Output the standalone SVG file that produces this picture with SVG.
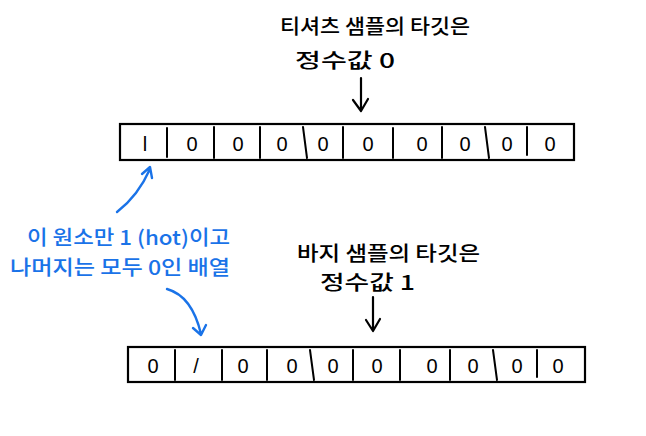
<svg xmlns="http://www.w3.org/2000/svg" width="646" height="436" viewBox="0 0 646 436">
<style>
.t{font-family:"Noto Sans CJK KR","Noto Sans",sans-serif;font-size:20px;font-weight:500;fill:#000}
.b{font-family:"Noto Sans CJK KR","Noto Sans",sans-serif;font-size:20px;font-weight:500;fill:#1a73e8}
.d{font-family:"Liberation Sans","Noto Sans",sans-serif;font-size:20px;fill:#000;text-anchor:middle}
.box{fill:#fff;stroke:#000;stroke-width:2.2}
.div{stroke:#000;stroke-width:2;fill:none;stroke-linecap:round}
.ar{stroke:#000;stroke-width:2.2;fill:none;stroke-linecap:round;stroke-linejoin:round}
.ab{stroke:#1a73e8;stroke-width:2.4;fill:none;stroke-linecap:round;stroke-linejoin:round}
</style>
<rect width="646" height="436" fill="#fff"/>
<g id="label-top">
<text class="t" x="280" y="34" textLength="190" lengthAdjust="spacingAndGlyphs">티셔츠 샘플의 타깃은</text>
<text class="t" x="295" y="68" textLength="100" lengthAdjust="spacingAndGlyphs">정수값 0</text>
</g>
<g id="array-top">
<rect class="box" x="120" y="124" width="454" height="36"/>
<g class="div">
<path d="M167 128V157M214 127V158M260 127V158M303 127L307 158M343 127V158M393 128V158M442 127V158M485 127L489 158M527 127V155"/>
</g>
<g class="d">
<text x="145" y="151">l</text><text x="192" y="151">0</text><text x="238" y="151">0</text><text x="282" y="151">0</text><text x="323" y="151">0</text><text x="368" y="151">0</text><text x="422" y="151">0</text><text x="465" y="151">0</text><text x="507" y="151">0</text><text x="550" y="151">0</text>
</g>
</g>
<g id="label-blue">
<text class="b" x="27" y="245" textLength="203" lengthAdjust="spacingAndGlyphs">이 원소만 1 (hot)이고</text>
<text class="b" x="10" y="275" textLength="220" lengthAdjust="spacingAndGlyphs">나머지는 모두 0인 배열</text>
</g>
<g id="label-bottom">
<text class="t" x="297" y="261" textLength="183" lengthAdjust="spacingAndGlyphs">바지 샘플의 타깃은</text>
<text class="t" x="320" y="290" textLength="95" lengthAdjust="spacingAndGlyphs">정수값 1</text>
</g>
<g id="array-bottom">
<rect class="box" x="128" y="347" width="457" height="35"/>
<g class="div">
<path d="M175 350V380M222 350V380M267 350V380M310 350L314 380M353 350V380M400 350V380M450 350V380M493 350L497 380M537 350V377"/>
</g>
<g class="d">
<text x="153" y="373">0</text><text x="196" y="373">/</text><text x="243" y="373">0</text><text x="292" y="373">0</text><text x="333" y="373">0</text><text x="377" y="373">0</text><text x="432" y="373">0</text><text x="473" y="373">0</text><text x="517" y="373">0</text><text x="558" y="373">0</text>
</g>
</g>
<g id="connectors">
<path class="ar" d="M361 78V110M353 100L361 111L368 99"/>
<path class="ar" d="M373 297V330M366 320L373 331L380 319"/>
<path class="ab" d="M117 212Q138 196 150 169M142 174L150 167L152 178"/>
<path class="ab" d="M167 289Q192 296 201 334M193 328L201 335L206 325"/>
</g>
</svg>
